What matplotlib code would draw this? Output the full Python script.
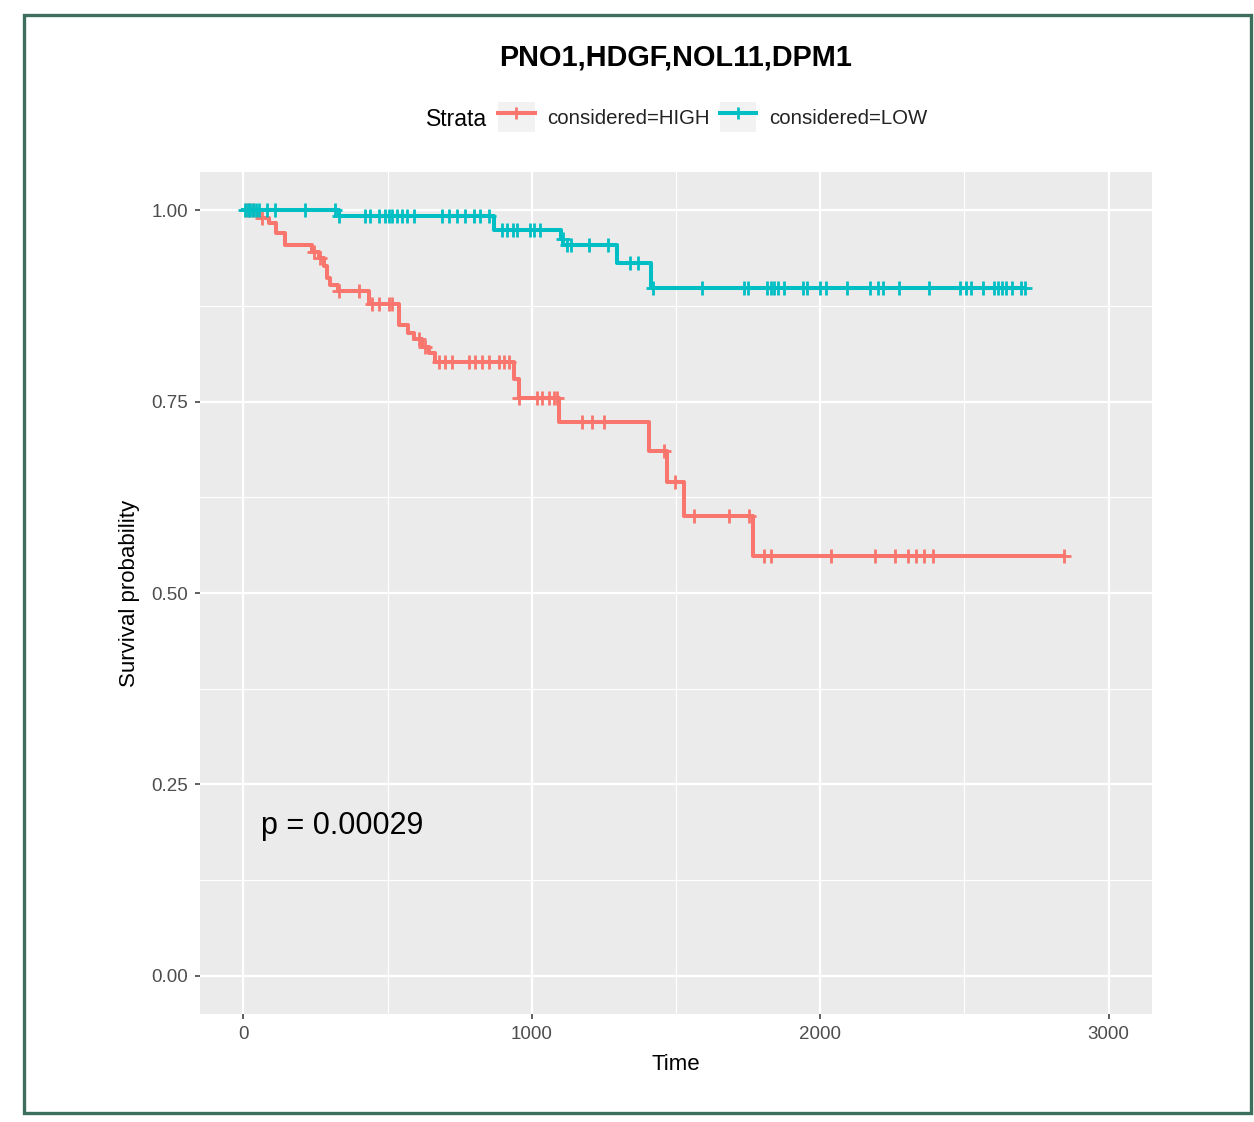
import numpy as np
import matplotlib
matplotlib.use("Agg")
import matplotlib.pyplot as plt
from matplotlib.lines import Line2D
from matplotlib.patches import Rectangle
from matplotlib.legend_handler import HandlerTuple

plt.rcParams["font.family"] = ["Liberation Sans", "DejaVu Sans"]

# Kaplan-Meier steps (time, survival)
high_times = [0, 55, 90, 115, 145, 239, 262, 280, 290, 302, 330, 436, 540, 570, 592, 620, 644, 664,
              937, 955, 1093, 1405, 1470, 1526, 1768]
high_surv = [1.0, 0.99, 0.983, 0.97, 0.954, 0.946, 0.937, 0.927, 0.911, 0.902, 0.895, 0.878, 0.85,
             0.84, 0.832, 0.822, 0.813, 0.802, 0.78, 0.755, 0.724, 0.685, 0.645, 0.60, 0.548]
high_end = 2845
high_censor = [10, 20, 35, 66, 245, 266, 332, 401, 446, 470, 505, 516, 609, 630, 678, 699, 723, 782,
               803, 827, 851, 886, 903, 920, 955, 1017, 1035, 1059, 1076, 1087, 1173, 1208, 1249,
               1457, 1495, 1564, 1685, 1754, 1806, 1830, 2038, 2190, 2260, 2304, 2332, 2360, 2390, 2845]

low_times = [0, 332, 868, 1100, 1110, 1294, 1415]
low_surv = [1.0, 0.992, 0.974, 0.962, 0.955, 0.931, 0.899]
low_end = 2709
low_censor = [5, 15, 25, 35, 45, 55, 83, 111, 215, 318, 332, 422, 439, 470, 491, 505, 516, 533, 550,
              567, 592, 689, 713, 740, 768, 799, 820, 851, 896, 913, 934, 948, 993, 1007, 1028, 1107,
              1121, 1135, 1200, 1266, 1339, 1367, 1419, 1591, 1737, 1751, 1817, 1830, 1841, 1855,
              1875, 1941, 1955, 2000, 2021, 2093, 2173, 2201, 2218, 2273, 2377, 2484, 2505, 2522,
              2564, 2602, 2616, 2630, 2644, 2664, 2695, 2709]

labels = ["considered=HIGH", "considered=LOW"]
colors = ["#F8766D", "#00BFC4"]
pval_text = "p = 0.00029"

fig = plt.figure(figsize=(12.54, 11.22), dpi=100)
ax = fig.add_axes([200 / 1254, 1 - 1014 / 1122, 952 / 1254, 842 / 1122])
ax.set_facecolor("#EBEBEB")
for s in ax.spines.values():
    s.set_visible(False)

ax.set_xlim(-150, 3150)
ax.set_ylim(-0.05, 1.05)
ax.set_xticks([0, 1000, 2000, 3000])
ax.set_yticks([0, 0.25, 0.5, 0.75, 1.0])
ax.set_yticklabels(["0.00", "0.25", "0.50", "0.75", "1.00"])
ax.set_xticks([500, 1500, 2500], minor=True)
ax.set_yticks([0.125, 0.375, 0.625, 0.875], minor=True)
ax.grid(which="major", color="white", lw=1.6)
ax.grid(which="minor", color="white", lw=0.8)
ax.set_axisbelow(True)
ax.tick_params(which="major", length=3.5, width=1.1, color="#333333", labelcolor="#4D4D4D",
               labelsize=13.5, pad=5)
ax.tick_params(which="minor", length=0)

groups = [(high_times, high_surv, high_end, high_censor),
          (low_times, low_surv, low_end, low_censor)]
for (t, s, end, cens), col in zip(groups, colors):
    x = list(t) + [end]
    y = list(s) + [s[-1]]
    ax.step(x, y, where="post", color=col, lw=2.9, zorder=3)
    idx = np.searchsorted(t, cens, side="right") - 1
    ax.plot(cens, np.array(s)[idx], ls="none", marker="+", ms=10, mew=2.0, color=col, zorder=4)

ax.text(62, 0.196, pval_text, fontsize=22, va="center", ha="left", color="black")

ax.set_xlabel("Time", fontsize=16, labelpad=8)
ax.set_ylabel("Survival probability", fontsize=16, labelpad=8)

fig.text(676 / 1254, 1 - 58 / 1122, "PNO1,HDGF,NOL11,DPM1", fontsize=20.8, fontweight="bold",
         ha="center", va="center")

# legend at top
fig.text(487 / 1254, 1 - 119 / 1122, "Strata", fontsize=16.5, ha="right", va="center")
handles = [(Rectangle((0, 0), 1, 1, facecolor="#F2F2F2", edgecolor="none"),
            Line2D([], [], color=c, lw=2.9, marker="+", ms=9, mew=2.0)) for c in colors]
fig.legend(handles, labels, handler_map={tuple: HandlerTuple(ndivide=1)},
           loc="center left", bbox_to_anchor=(498 / 1254, 1 - 117 / 1122), ncol=2,
           frameon=False, fontsize=14.7, handlelength=1.8, handleheight=1.9,
           handletextpad=0.6, columnspacing=0.5, borderpad=0, borderaxespad=0,
           labelcolor="#222222")

# outer frame
fig.patches.append(Rectangle((24 / 1254, 1 - 1113 / 1122), 1227 / 1254, 1098 / 1122,
                             transform=fig.transFigure, fill=False, edgecolor="#3C6E5C", lw=2.4))

fig.savefig("out.png", dpi=100)
